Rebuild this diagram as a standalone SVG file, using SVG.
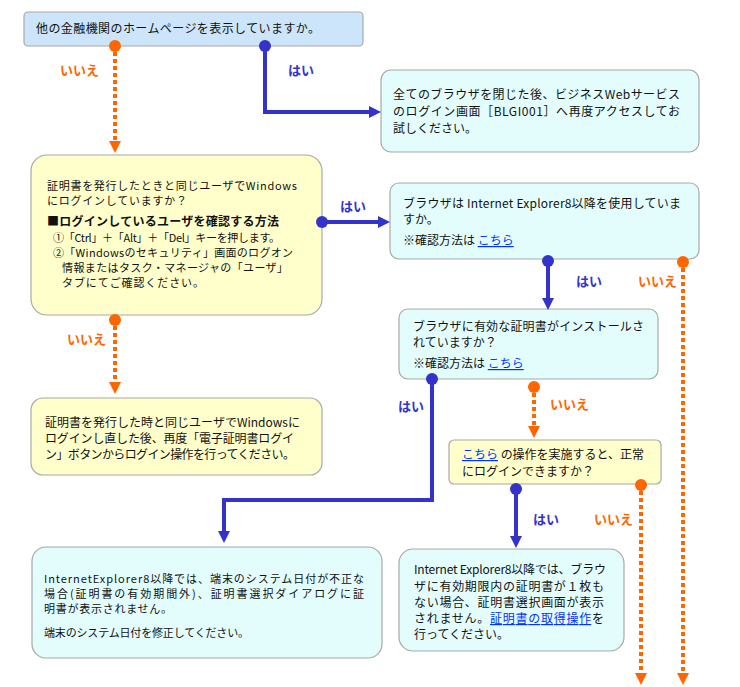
<svg xmlns="http://www.w3.org/2000/svg" width="740" height="687" viewBox="0 0 740 687">
<style>
text{font-family:"Noto Sans CJK JP","Noto Sans",sans-serif;font-size:12px;fill:#111}
.sm{font-size:11px}
.box{stroke:#a8a8a8;stroke-width:1.2}
.blue{fill:#cce5fb}
.cyan{fill:#e3fdfd}
.yel{fill:#ffffcc}
.lk{fill:#0033ff;text-decoration:underline}
.yes{fill:#3333cc;font-weight:bold;font-size:13px}
.no{fill:#ff6600;font-weight:bold;font-size:13px}
.bl{stroke:#3333cc;stroke-width:4;fill:none}
.or{stroke:#ff6600;stroke-width:4;fill:none;stroke-dasharray:4 3}
.bd{fill:#3333cc}
.od{fill:#ff6600}
</style>
<rect width="740" height="687" fill="#fff"/>
<g id="n1"><rect class="box blue" x="24" y="12" width="339" height="34" rx="4"/>
<text x="36" y="33" textLength="284">他の金融機関のホームページを表示していますか。</text></g>
<g id="n2"><rect class="box cyan" x="381" y="70" width="318" height="82" rx="10"/>
<text x="393" y="99" textLength="287">全てのブラウザを閉じた後、ビジネスWebサービス</text>
<text x="393" y="116" textLength="287">のログイン画面［BLGI001］へ再度アクセスしてお</text>
<text x="393" y="133">試しください。</text></g>
<g id="n3"><rect class="box yel" x="31" y="155" width="291" height="160" rx="16"/>
<text class="sm" x="47" y="190" textLength="250">証明書を発行したときと同じユーザでWindows</text>
<text class="sm" x="47" y="205" textLength="140">にログインしていますか？</text>
<text x="47" y="226" style="font-weight:bold" textLength="232">■ログインしているユーザを確認する方法</text>
<text class="sm" x="53" y="242" textLength="227">①「Ctrl」＋「Alt」＋「Del」キーを押します。</text>
<text class="sm" x="53" y="257" textLength="240">②「Windowsのセキュリティ」画面のログオン</text>
<text class="sm" x="62" y="272" textLength="226">情報またはタスク・マネージャの「ユーザ」</text>
<text class="sm" x="62" y="287" textLength="142">タブにてご確認ください。</text></g>
<g id="n4"><rect class="box cyan" x="390" y="183" width="309" height="76" rx="9"/>
<text x="403" y="208" textLength="278">ブラウザは Internet Explorer8以降を使用していま</text>
<text x="403" y="224">すか。</text>
<text x="403" y="245">※確認方法は <tspan class="lk">こちら</tspan></text></g>
<g id="n5"><rect class="box cyan" x="399" y="309" width="259" height="70" rx="9"/>
<text x="413" y="331" textLength="231">ブラウザに有効な証明書がインストールさ</text>
<text x="413" y="347">れていますか？</text>
<text x="413" y="368">※確認方法は <tspan class="lk">こちら</tspan></text></g>
<g id="n6"><rect class="box yel" x="449" y="440" width="212" height="44" rx="5"/>
<text x="462" y="459" textLength="182"><tspan class="lk">こちら</tspan> の操作を実施すると、正常</text>
<text x="462" y="476">にログインできますか？</text></g>
<g id="n7"><rect class="box cyan" x="399" y="549" width="225" height="102" rx="14"/>
<text x="414" y="574" textLength="192">Internet Explorer8以降では、ブラウ</text>
<text x="414" y="591" textLength="190">ザに有効期限内の証明書が１枚も</text>
<text x="414" y="607" textLength="190">ない場合、証明書選択画面が表示</text>
<text x="414" y="623" textLength="190">されません。<tspan class="lk">証明書の取得操作</tspan>を</text>
<text x="414" y="639">行ってください。</text></g>
<g id="n8"><rect class="box cyan" x="32" y="547" width="350" height="111" rx="14"/>
<text class="sm" x="44" y="583" textLength="320">InternetExplorer8以降では、端末のシステム日付が不正な</text>
<text class="sm" x="44" y="598" textLength="320">場合(証明書の有効期間外)、証明書選択ダイアログに証</text>
<text class="sm" x="44" y="613" textLength="128">明書が表示されません。</text>
<text class="sm" x="44" y="637" textLength="205">端末のシステム日付を修正してください。</text></g>
<g id="n9"><rect class="box yel" x="31" y="398" width="291" height="77" rx="12"/>
<text x="45" y="427" textLength="255">証明書を発行した時と同じユーザでWindowsに</text>
<text x="45" y="443" textLength="249">ログインし直した後、再度「電子証明書ログイ</text>
<text x="45" y="459" textLength="250">ン」ボタンからログイン操作を行ってください。</text></g>
<g id="connectors">
<path class="or" d="M115,52 V141"/><path class="od" d="M109,141 L121,141 L115,153 Z"/><circle class="od" cx="115" cy="46" r="6"/>
<text class="no" x="60" y="75">いいえ</text>
<path class="bl" d="M265,46 V112 H370"/><path class="bd" d="M369,106 L381,112 L369,118 Z"/><circle class="bd" cx="265" cy="46" r="6"/>
<text class="yes" x="288" y="75">はい</text>
<path class="bl" d="M322,222 H379"/><path class="bd" d="M378,216 L390,222 L378,228 Z"/><circle class="bd" cx="322" cy="222" r="6"/>
<text class="yes" x="340" y="211">はい</text>
<path class="bl" d="M548,261 V299"/><path class="bd" d="M542,298 L554,298 L548,310 Z"/><circle class="bd" cx="548" cy="261" r="6"/>
<text class="yes" x="576" y="286">はい</text>
<path class="or" d="M683,268 V674"/><path class="od" d="M677,673 L689,673 L683,685 Z"/><circle class="od" cx="683" cy="262" r="6"/>
<text class="no" x="638" y="286">いいえ</text>
<path class="bl" d="M432,379 V500 H224 V532"/><path class="bd" d="M218,531 L230,531 L224,543 Z"/><circle class="bd" cx="432" cy="379" r="6"/>
<text class="yes" x="398" y="411">はい</text>
<path class="or" d="M534,393 V427"/><path class="od" d="M528,426 L540,426 L534,438 Z"/><circle class="od" cx="534" cy="387" r="6"/>
<text class="no" x="550" y="409">いいえ</text>
<path class="bl" d="M516,489 V537"/><path class="bd" d="M510,536 L522,536 L516,548 Z"/><circle class="bd" cx="516" cy="489" r="6"/>
<text class="yes" x="533" y="524">はい</text>
<path class="or" d="M641,491 V674"/><path class="od" d="M635,673 L647,673 L641,685 Z"/><circle class="od" cx="641" cy="485" r="6"/>
<text class="no" x="594" y="524">いいえ</text>
<path class="or" d="M115,326 V383"/><path class="od" d="M109,382 L121,382 L115,394 Z"/><circle class="od" cx="115" cy="320" r="6"/>
<text class="no" x="67" y="344">いいえ</text>
</g>
</svg>
